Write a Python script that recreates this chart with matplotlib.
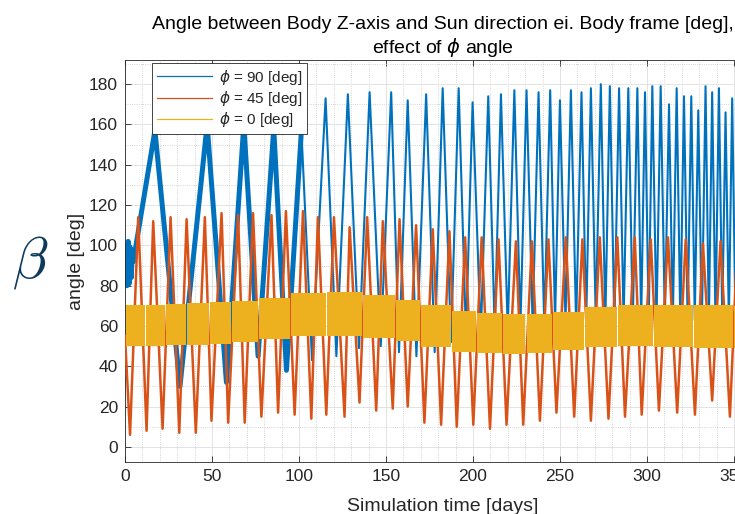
import matplotlib.pyplot as plt
import numpy as np
from matplotlib.lines import Line2D
from matplotlib.ticker import MultipleLocator

plt.rcParams['font.family'] = ['Liberation Sans', 'DejaVu Sans']
plt.rcParams['mathtext.fontset'] = 'dejavusans'

# phi = 90 [deg]  (blue)
blue_start_t = [0, 0.6, 1.2, 1.8, 2.4, 3.0, 3.6, 4.2, 4.8]
blue_start_v = [84, 100, 80, 102, 81, 99, 84, 97, 92]
blue_peak_t = [17.2, 47.2, 68.3, 85.5, 101.4, 115.3, 128.1, 140.6, 153.0, 162.5,
               173.1, 182.6, 191.8, 199.8, 208.8, 216.1, 223.8, 230.8, 237.7, 244.4,
               250.0, 256.3, 262.4, 267.8, 273.5, 278.7, 284.0, 289.3, 294.5, 298.9,
               303.1, 307.9, 312.7, 317.1, 321.3, 325.5, 329.5, 333.7, 337.5, 341.4,
               345.2, 349.0, 352.8, 356.6, 360.4, 364.2]
blue_peak_v = [157, 160, 160, 158, 157, 173, 175, 176, 176, 172,
               175, 178, 178, 171, 174, 175, 177, 177, 176, 177,
               172, 177, 176, 178, 180, 179, 178, 178, 178, 176,
               179, 179, 170, 178, 174, 174, 167, 179, 176, 178,
               166, 173, 175, 176, 172, 174]
blue_trough_t = [31.6, 58.3, 76.5, 92.8, 107.5, 121.5, 134.5, 147.0, 157.5, 167.5,
                 178.0, 187.4, 196.0, 204.5, 212.5, 220.0, 227.3, 234.3, 241.0, 247.2,
                 253.2, 259.3, 265.1, 270.6, 276.1, 281.3, 286.6, 291.9, 296.7, 301.0,
                 305.5, 310.3, 314.9, 319.2, 323.4, 327.5, 331.6, 335.6, 339.4, 343.3,
                 347.1, 350.9, 354.7, 358.5, 362.3]
blue_trough_v = [30, 32, 45, 38, 43, 45, 49, 50, 47, 45,
                 47, 52, 55, 55, 58, 58, 60, 60, 60, 62,
                 62, 61, 62, 63, 62, 61, 62, 63, 62, 61,
                 62, 63, 62, 61, 62, 63, 62, 61, 62, 63,
                 62, 61, 62, 63, 62]

# phi = 45 [deg]  (orange)
orange_peak_t = [7.6, 16.2, 26.2, 35.4, 45.9, 55.5, 65.0, 73.6, 84.2, 92.5,
                 102.3, 110.9, 120.1, 129.1, 139.2, 148.2, 157.8, 167.3, 176.9, 186.5,
                 195.5, 205.0, 214.7, 224.7, 233.9, 243.4, 253.4, 262.9, 272.9, 283.0,
                 293.0, 302.2, 312.1, 322.3, 332.2, 342.3, 352.0, 361.8]
orange_peak_v = [114, 112, 114, 113, 114, 116, 115, 116, 115, 117,
                 117, 114, 114, 109, 114, 112, 113, 110, 108, 107,
                 104, 104, 103, 102, 102, 103, 104, 103, 104, 104,
                 104, 103, 104, 103, 101, 102, 103, 103]
orange_trough_t = [0.0, 2.9, 12.4, 21.6, 31.2, 40.7, 49.7, 59.3, 68.8, 78.4,
                   88.0, 97.5, 107.1, 115.7, 126.2, 134.8, 144.4, 153.9, 162.5, 172.1,
                   181.7, 190.7, 200.2, 209.8, 219.3, 228.9, 238.5, 248.0, 258.2, 267.8,
                   277.9, 287.4, 297.0, 306.9, 317.4, 327.6, 337.5, 347.7, 357.3]
orange_trough_v = [55, 6, 8, 9, 7, 7, 13, 12, 12, 15,
                   17, 16, 14, 16, 15, 22, 18, 19, 20, 12,
                   11, 10, 11, 9, 11, 11, 13, 17, 15, 13,
                   14, 15, 16, 18, 17, 16, 23, 15, 14]

# phi = 0 [deg]  (yellow) - band between gaps
yellow_edges = [0, 12, 23.5, 35.4, 48.4, 61.2, 77, 95, 115.7, 136.7, 155.5, 170,
                187.4, 201.8, 217, 230.5, 245.7, 263.9, 283, 304, 327, 350, 365]
yellow_low = [50, 50, 50.5, 50.5, 51, 52, 53.5, 55, 55, 54, 52.5,
              49.5, 47, 46.5, 46, 46.5, 48, 49.5, 50, 49.5, 49, 49]
yellow_high = [70.5, 70.5, 71, 71.5, 72, 72.5, 74, 76.5, 77, 75.5, 73,
               70.5, 67.5, 66.5, 66, 66, 67, 69.5, 70.5, 70.5, 70.5, 70]

c_blue, c_orange, c_yellow = '#0072BD', '#D95319', '#EDB120'
dark = '#262626'

fig = plt.figure(figsize=(7.35, 5.14), dpi=100)
ax = fig.add_axes([125 / 735, 52 / 514, 635 / 735, 402 / 514])

bt = np.array(blue_start_t + blue_peak_t + blue_trough_t)
bv = np.array(blue_start_v + blue_peak_v + blue_trough_v)
o = np.argsort(bt)
bt, bv = bt[o], bv[o]
early = bt <= 102
ax.plot(bt[early], bv[early], color=c_blue, lw=3.6, zorder=2)
ax.plot(bt[bt >= 101], bv[bt >= 101], color=c_blue, lw=1.5, zorder=2)

ot = np.array(orange_peak_t + orange_trough_t)
ov = np.array(orange_peak_v + orange_trough_v)
o = np.argsort(ot)
ax.plot(ot[o], ov[o], color=c_orange, lw=1.8, zorder=3)

for i in range(len(yellow_low)):
    ax.fill_between([yellow_edges[i] + 0.3, yellow_edges[i + 1] - 0.3],
                    yellow_low[i], yellow_high[i], color=c_yellow, lw=0, zorder=4)

ax.set_xlim(0, 365)
ax.set_ylim(-7.5, 192)
ax.xaxis.set_major_locator(MultipleLocator(50))
ax.yaxis.set_major_locator(MultipleLocator(20))
ax.xaxis.set_minor_locator(MultipleLocator(10))
ax.yaxis.set_minor_locator(MultipleLocator(10))
ax.grid(which='major', color='#dedede', lw=0.6)
ax.grid(which='minor', color='#c8c8c8', lw=0.6, ls=':')
ax.set_axisbelow(True)
ax.tick_params(which='major', direction='in', top=True, right=True, length=4,
               width=0.6, color=dark, labelcolor=dark, labelsize=12.5, pad=5)
ax.tick_params(which='minor', length=0)
for s in ax.spines.values():
    s.set_color(dark)
    s.set_linewidth(0.6)

ax.set_title('Angle between Body Z-axis and Sun direction ei. Body frame [deg],\n'
             r'effect of $\phi$ angle', fontsize=14, linespacing=1.2, pad=5)
ax.set_xlabel('Simulation time [days]', fontsize=14, color=dark, labelpad=10)
ax.set_ylabel('angle [deg]', fontsize=14, color=dark, labelpad=3)

handles = [Line2D([], [], color=c_blue, lw=0.9),
           Line2D([], [], color=c_orange, lw=0.9),
           Line2D([], [], color=c_yellow, lw=0.9)]
labels = [r'$\phi$ = 90 [deg]', r'$\phi$ = 45 [deg]', r'$\phi$ = 0 [deg]']
leg = ax.legend(handles, labels, loc='upper left', bbox_to_anchor=(27 / 635, 399 / 402),
                borderaxespad=0, fontsize=11, handlelength=3.6, labelspacing=0.15,
                borderpad=0.3, handletextpad=0.5, fancybox=False, framealpha=1,
                edgecolor=dark)
leg.get_frame().set_linewidth(0.6)
for t in leg.get_texts():
    t.set_color(dark)

fig.text(30 / 735, 0.49, r'$\beta$', fontsize=42, color='#0E3B5C',
         ha='center', va='center', math_fontfamily='cm')

fig.savefig('out.png', dpi=100)
